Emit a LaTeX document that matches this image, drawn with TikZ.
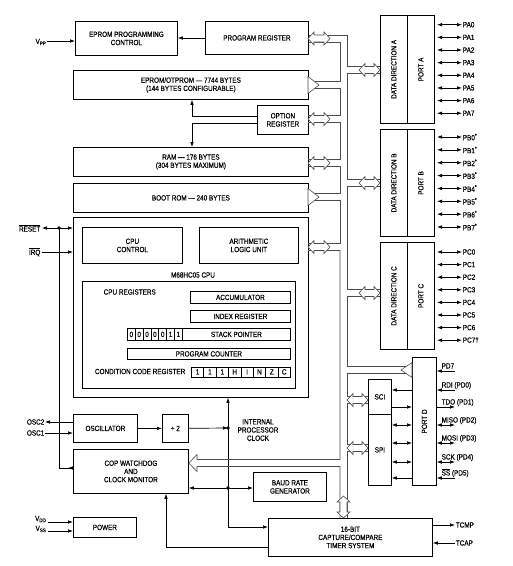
\documentclass[tikz,border=0pt]{standalone}
\usepackage{fontspec}
\setmainfont{Liberation Sans}[FakeStretch=0.85, FakeBold=0.35]
\usetikzlibrary{arrows.meta}
\newcommand\mybox[6]{\node[box, minimum width={#4-#2}, minimum height={#5-#3}] (#1) at (#2,#3) {#6};}
\newcommand\hbi[3]{\filldraw[harrow] (#1,#3) -- ({#1+6},{#3-6.5}) -- ({#1+6},{#3-3.5}) -- ({#2-6},{#3-3.5}) -- ({#2-6},{#3-6.5}) -- (#2,#3) -- ({#2-6},{#3+6.5}) -- ({#2-6},{#3+3.5}) -- ({#1+6},{#3+3.5}) -- ({#1+6},{#3+6.5}) -- cycle;}
\newcommand\vbi[3]{\filldraw[harrow] (#3,#1) -- ({#3-6.5},{#1+6}) -- ({#3-3.5},{#1+6}) -- ({#3-3.5},{#2-6}) -- ({#3-6.5},{#2-6}) -- (#3,#2) -- ({#3+6.5},{#2-6}) -- ({#3+3.5},{#2-6}) -- ({#3+3.5},{#1+6}) -- ({#3+6.5},{#1+6}) -- cycle;}
\newcommand\htri[4]{\filldraw[harrow] (#1,{#3-#4}) -- (#2,#3) -- (#1,{#3+#4}) -- cycle;}
\newcommand\ovl[1]{$\overline{\hbox{#1}}$}
\begin{document}
\begin{tikzpicture}[x=1pt,y=-1pt, font=\fontsize{7.5}{8.2}\selectfont,
  box/.style={draw, line width=0.8pt, inner sep=0pt, align=center, anchor=north west},
  harrow/.style={draw=black!70, fill=white, line width=0.6pt},
  bus/.style={draw=black!70, line width=0.6pt},
  sig/.style={line width=0.7pt},
  tip/.style={-{Latex[length=5pt,width=3.6pt]}},
  bitip/.style={{Latex[length=5pt,width=3.6pt]}-{Latex[length=5pt,width=3.6pt]}},
  rtip/.style={{Latex[length=5pt,width=3.6pt]}-},
  lbl/.style={inner sep=0.5pt}]
\useasboundingbox (0,0) rectangle (513,566);
% ---------- memory column ----------
\mybox{eprog}{75}{21}{177}{55}{EPROM PROGRAMMING\\CONTROL}
\mybox{preg}{205}{21}{308}{54}{PROGRAM REGISTER}
\mybox{eprom}{73}{70}{308}{99}{EPROM/OTPROM — 7744 BYTES\\(144 BYTES CONFIGURABLE)}
\mybox{opt}{257}{105}{308}{134}{OPTION\\REGISTER}
\mybox{ram}{73}{147}{308}{176}{RAM — 176 BYTES\\(304 BYTES MAXIMUM)}
\mybox{boot}{73}{183}{308}{212}{BOOT ROM — 240 BYTES}
\mybox{cpu}{73}{217}{308}{397}{}
\mybox{cpuctl}{82}{227}{182}{263}{CPU\\CONTROL}
\mybox{alu}{199}{227}{298}{263}{ARITHMETIC\\LOGIC UNIT}
\node[lbl] (cpulbl) at (193,275) {M68HC05 CPU};
\mybox{regs}{82}{281}{295}{388}{}
\node[lbl, anchor=west] (reglbl) at (103,292) {CPU REGISTERS};
\mybox{acc}{190}{291}{290}{303}{ACCUMULATOR}
\mybox{idx}{190}{310}{290}{322}{INDEX REGISTER}
\foreach \v [count=\i from 0] in {0,0,0,0,0,1,1}
  {\node[box, minimum width=7.85, minimum height=12] (sp\i) at ({127+7.85*\i},328) {\v};}
\mybox{spr}{182}{328}{290}{340}{STACK POINTER}
\mybox{pc}{127}{348}{290}{359}{PROGRAM COUNTER}
\node[lbl, anchor=east] (ccrlbl) at (186,371.5) {CONDITION CODE REGISTER};
\foreach \v [count=\i from 0] in {1,1,1,H,I,N,Z,C}
  {\node[box, minimum width=12.375, minimum height=10] (cc\i) at ({191+12.375*\i},366.5) {\v};}
% ---------- lower blocks ----------
\mybox{osc}{73}{414}{137}{442}{OSCILLATOR}
\mybox{div}{162}{414}{188}{442}{÷ 2}
\mybox{cop}{73}{449}{188}{493}{COP WATCHDOG\\AND\\CLOCK MONITOR}
\mybox{baud}{253}{472}{326}{501}{BAUD RATE\\GENERATOR}
\mybox{power}{73}{517}{136}{537}{POWER}
\mybox{timer}{268}{518}{432}{556}{16-BIT\\CAPTURE/COMPARE\\TIMER SYSTEM}
\node[lbl, align=center] (iclk) at (258,430) {INTERNAL\\PROCESSOR\\CLOCK};
% ---------- ports ----------
\mybox{dda}{380}{15}{407}{123}{}
\mybox{pa}{407}{15}{434}{123}{}
\mybox{ddb}{380}{129}{407}{236}{}
\mybox{pb}{407}{129}{434}{236}{}
\mybox{ddc}{380}{242}{407}{349}{}
\mybox{pcb}{407}{242}{434}{349}{}
\node[lbl, rotate=90] (ddal) at (dda) {DATA DIRECTION A};
\node[lbl, rotate=90] (pal) at (pa) {PORT A};
\node[lbl, rotate=90] (ddbl) at (ddb) {DATA DIRECTION B};
\node[lbl, rotate=90] (pbl) at (pb) {PORT B};
\node[lbl, rotate=90] (ddcl) at (ddc) {DATA DIRECTION C};
\node[lbl, rotate=90] (pcl) at (pcb) {PORT C};
\mybox{sci}{368}{379}{391}{414}{SCI}
\mybox{spi}{368}{414}{391}{485}{SPI}
\mybox{portd}{412}{357}{436}{485}{}
\node[lbl, rotate=90] (pdl) at (portd) {PORT D};
% port pins
\foreach \n [count=\i from 0] in {PA0,PA1,PA2,PA3,PA4,PA5,PA6,PA7}
  {\coordinate (pa\i) at (437,{24.7+12.65*\i});
   \draw[sig,bitip] (pa\i) -- ++(25,0) node[lbl, anchor=west] (lpa\i) {\n};}
\foreach \n [count=\i from 0] in {0,...,7}
  {\coordinate (pb\i) at (437,{137+12.86*\i});
   \draw[sig,bitip] (pb\i) -- ++(25,0) node[lbl, anchor=west] (lpb\i) {PB\n\textsuperscript{*}};}
\foreach \n [count=\i from 0] in {PC0,PC1,PC2,PC3,PC4,PC5,PC6,PC7†}
  {\coordinate (pc\i) at (437,{252+12.6*\i});
   \draw[sig,bitip] (pc\i) -- ++(25,0) node[lbl, anchor=west] (lpc\i) {\n};}
% port D pins
\foreach \y/\s/\t [count=\i] in {371/rtip/PD7, 390/rtip/RDI (PD0), 407/tip/TDO (PD1), 425/bitip/MISO (PD2), 443/bitip/MOSI (PD3), 462/bitip/SCK (PD4), 478/rtip/\ovl{SS} (PD5)}
  {\coordinate (pd\i) at (455,\y);
   \draw[sig,\s] (portd.east |- pd\i) -- (pd\i);
   \node[lbl, anchor=base west] (lpd\i) at (441,{\y-2.5}) {\t};}
% SCI/SPI to port D
\draw[sig,rtip] (sci.east |- 0,390) -- (portd.west |- 0,390);
\draw[sig,tip] (sci.east |- 0,407) -- (portd.west |- 0,407);
\draw[sig,bitip] (spi.east |- 0,425) -- (portd.west |- 0,425);
\draw[sig,bitip] (spi.east |- 0,443) -- (portd.west |- 0,443);
\draw[sig,bitip] (spi.east |- 0,462) -- (portd.west |- 0,462);
\draw[sig,rtip] (spi.east |- 0,478) -- (portd.west |- 0,478);
% ---------- signals ----------
\node[lbl, anchor=east] (vpp) at (47,42) {V\textsubscript{PP}};
\draw[sig,tip] (vpp.east |- 0,41) -- (eprog.west |- 0,41);
\draw[sig,tip] (preg.west |- 0,38) -- (eprog.east |- 0,38);
\draw[sig,tip] (opt.west |- 0,116) -- (192,116) -- (eprom.south -| 192,0);
\draw[sig,tip] (opt.west |- 0,123) -- (192,123) -- (ram.north -| 192,0);
\node[lbl, anchor=east] (rst) at (41,228) {\ovl{RESET}};
\coordinate (rstdot) at (59,228);
\draw[sig,bitip] (42,228) -- (cpu.west |- 0,228);
\fill (rstdot) circle (1.8);
\node[lbl, anchor=east] (irq) at (41,252) {\ovl{IRQ}};
\draw[sig,tip] (42,252) -- (cpu.west |- 0,252);
\coordinate (rstcorner) at (59,468);
\draw[sig] (rstdot) -- (rstcorner) -- (cop.west |- rstcorner);
\draw[sig,tip] (cop.west |- rstcorner) -- ++(-5,0);
\node[lbl, anchor=east] (osc2) at (45,422) {OSC2};
\node[lbl, anchor=east] (osc1) at (45,433) {OSC1};
\draw[sig,tip] (osc.west |- osc2) -- (osc2.east);
\draw[sig,tip] (osc1.east) -- (osc.west |- osc1);
\draw[sig,tip] (osc) -- (div);
\coordinate (clk1) at (228,428);
\coordinate (clk2) at (228,488);
\coordinate (clk3) at (228,527);
\draw[sig,tip] (div) -- (clk1);
\draw[sig,tip] (clk3) -- (clk1 |- cpu.south);
\draw[sig,tip] (clk3) -- (timer.west |- clk3);
\draw[sig,tip] (clk2) -- (cop.east |- clk2);
\draw[sig,tip] (clk2) -- (baud.west |- clk2);
\fill (clk1) circle (1.8);
\fill (clk2) circle (1.8);
\coordinate (copin) at (166,547);
\draw[sig,tip] (timer.west |- copin) -- (copin) -- (cop.south -| copin);
\node[lbl, anchor=east] (vdd) at (47,519) {V\textsubscript{DD}};
\node[lbl, anchor=east] (vss) at (47,529) {V\textsubscript{SS}};
\draw[sig,tip] (48,522) -- (power.west |- 0,522);
\draw[sig,tip] (48,531) -- (power.west |- 0,531);
\coordinate (tcmp) at (455,525);
\coordinate (tcap) at (455,543);
\draw[sig,tip] (timer.east |- tcmp) -- (tcmp) node[lbl, anchor=west] (ltcmp) {TCMP};
\draw[sig,rtip] (timer.east |- tcap) -- (tcap) node[lbl, anchor=west] (ltcap) {TCAP};
% ---------- internal bus ----------
\draw[bus] (preg.east |- 0,35) -- (347,35) -- (347,66.5) -- (380,66.5);
\draw[bus] (380,73.5) -- (347,73.5) -- (347,179.5) -- (380,179.5);
\draw[bus] (380,186.5) -- (347,186.5) -- (347,289.5) -- (380,289.5);
\draw[bus] (380,296.5) -- (347,296.5) -- (347,366.5) -- (412,366.5);
\draw[bus] (412,373.5) -- (347,373.5) -- (347,396.5) -- (368,396.5);
\draw[bus] (368,403.5) -- (347,403.5) -- (347,444.5) -- (368,444.5);
\draw[bus] (368,451.5) -- (347,451.5) -- (347,518);
\draw[bus] (preg.east |- 0,42) -- (340,42) -- (340,81.5) -- (308,81.5);
\draw[bus] (308,88.5) -- (340,88.5) -- (340,115.5) -- (308,115.5);
\draw[bus] (308,122.5) -- (340,122.5) -- (340,159.5) -- (308,159.5);
\draw[bus] (308,166.5) -- (340,166.5) -- (340,193.5) -- (308,193.5);
\draw[bus] (308,200.5) -- (340,200.5) -- (340,243.5) -- (308,243.5);
\draw[bus] (308,250.5) -- (340,250.5) -- (340,459.5) -- (197,459.5) -- (197,454.5) -- (cop.east |- 0,463) -- (197,471.5) -- (197,466.5) -- (340,466.5) -- (340,518);
\hbi{308}{330}{38.5}
\htri{308}{319}{85}{8.5}
\hbi{308}{330}{119}
\hbi{308}{330}{163}
\htri{308}{319}{197}{8.5}
\hbi{308}{330}{247}
\hbi{359}{380}{70}
\hbi{359}{380}{183}
\hbi{359}{380}{293}
\htri{412}{401}{370}{7.5}
\hbi{347}{368}{400}
\hbi{347}{368}{448}
\vbi{496}{518}{343.5}
\end{tikzpicture}
\end{document}
